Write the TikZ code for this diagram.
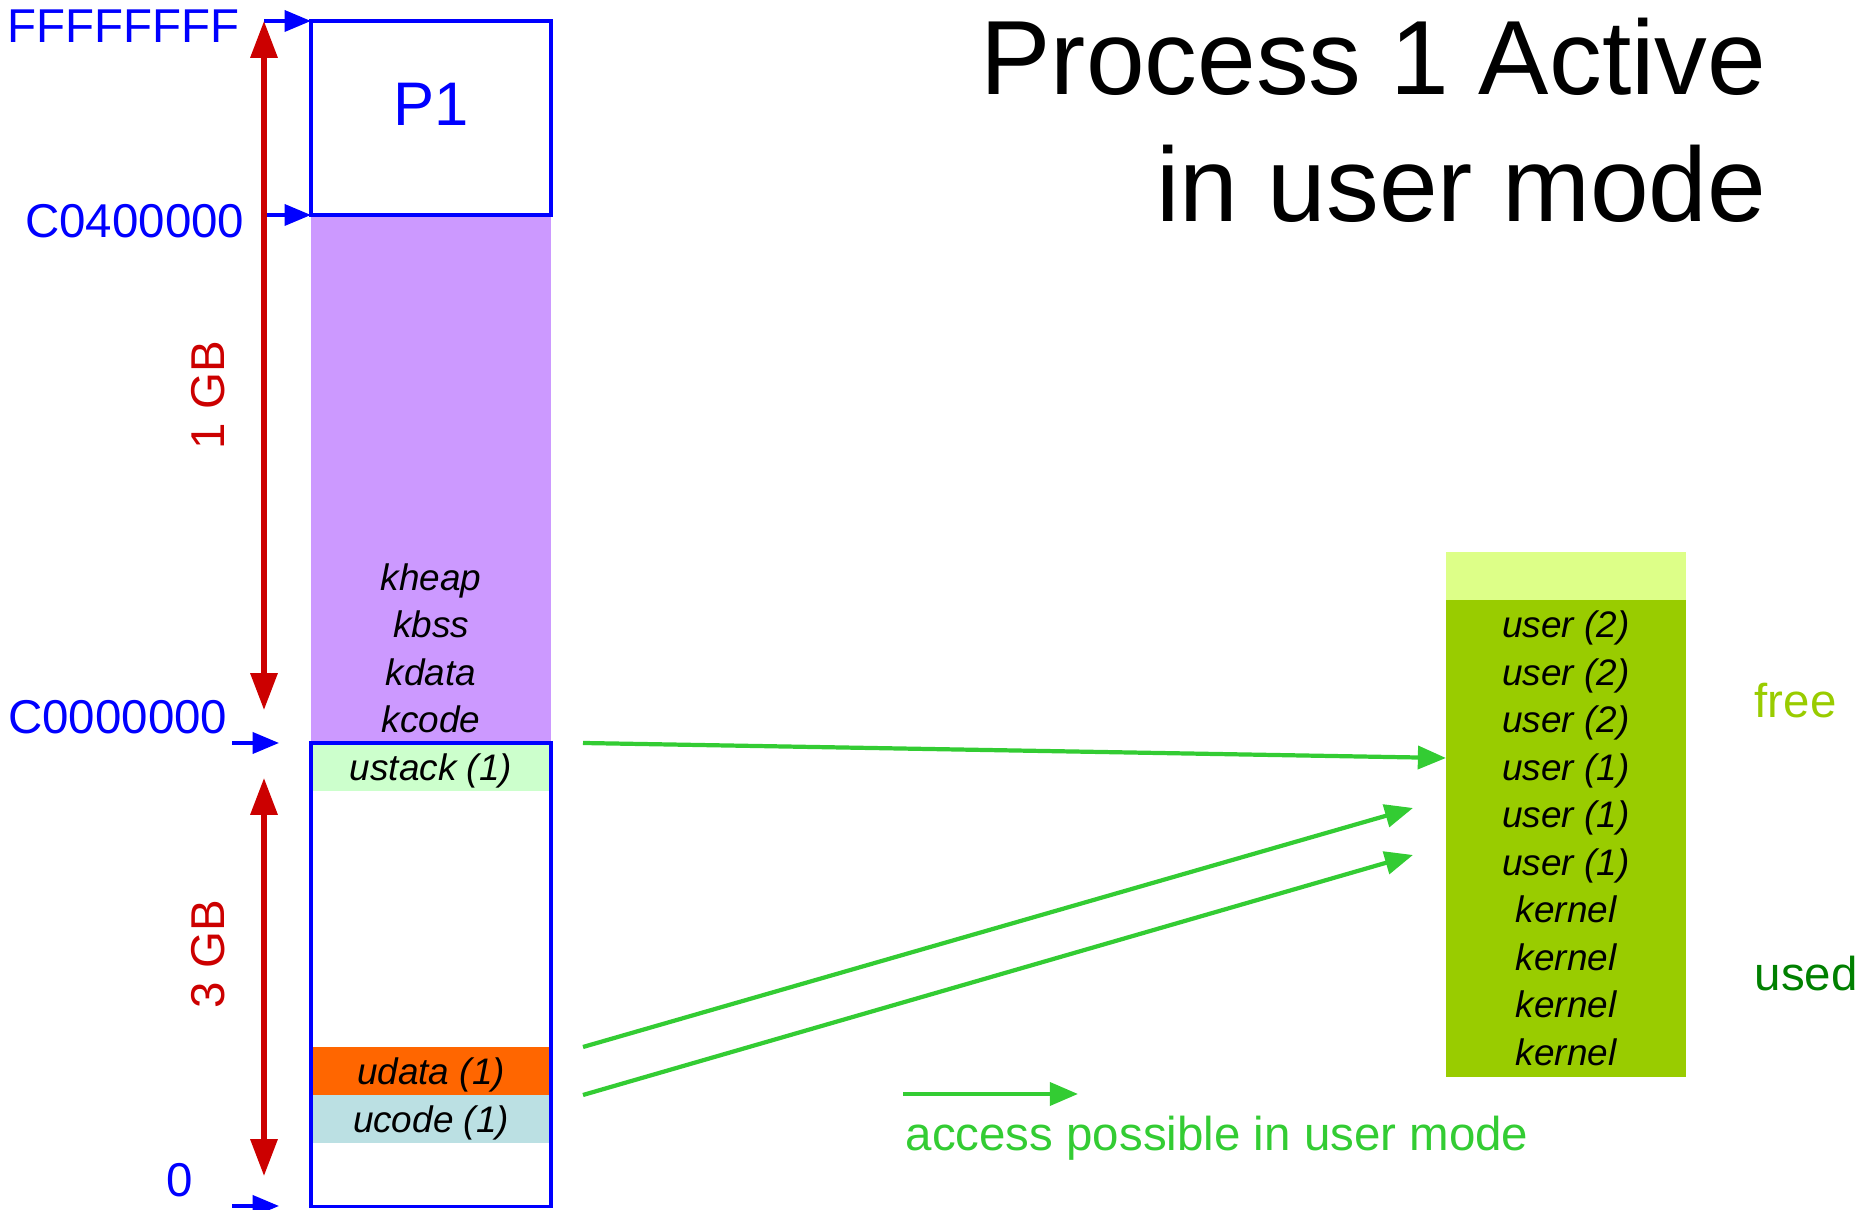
\documentclass[tikz,border=0pt]{standalone}
\usepackage{fontspec}
\setmainfont{Liberation Sans}
\usetikzlibrary{arrows.meta}
\definecolor{addrblue}{HTML}{0000FF}
\definecolor{sizered}{HTML}{CC0000}
\definecolor{kpurple}{HTML}{CC99FF}
\definecolor{stackgreen}{HTML}{CCFFCC}
\definecolor{dataorange}{HTML}{FF6600}
\definecolor{codecyan}{HTML}{BBE0E3}
\definecolor{freefill}{HTML}{DDFF88}
\definecolor{usedfill}{HTML}{99CC00}
\definecolor{usedtext}{HTML}{008000}
\definecolor{accgreen}{HTML}{33CC33}
\newcommand{\titlefont}{\fontsize{30}{36}\selectfont}
\newcommand{\addrfont}{\fontsize{13.5}{16}\selectfont}
\newcommand{\rowfont}{\fontsize{10.5}{12.6}\selectfont\itshape}
\newcommand{\ponefont}{\fontsize{17.5}{21}\selectfont}

\begin{document}
\begin{tikzpicture}[
  x=0.01cm, y=-0.01cm,
  seg/.style={minimum width=2.4cm, minimum height=0.475cm, inner sep=0pt, outer sep=0pt,
              font=\rowfont, text height=9pt, text depth=1.2pt},
  memframe/.style={draw=addrblue, line width=1pt, minimum width=2.4cm, inner sep=0pt, outer sep=0pt},
  rowlbl/.style={inner sep=0pt, font=\rowfont, text height=9pt, text depth=1.2pt},
  addr/.style={anchor=east, inner sep=0pt, text=addrblue, font=\addrfont},
  gblbl/.style={inner sep=0pt, text=sizered, font=\addrfont, rotate=90},
  ptr/.style={draw=addrblue, line width=1pt, -{Triangle[length=7.5pt, width=6pt]}},
  gbspan/.style={draw=sizered, line width=1.5pt,
                 {Triangle[length=10.5pt, width=7.5pt]}-{Triangle[length=10.5pt, width=7.5pt]}},
  acc/.style={draw=accgreen, line width=1.2pt, -{Triangle[length=8pt, width=6.5pt]}}
]
\useasboundingbox (0,0) rectangle (1862,1210);

\node[anchor=base east, inner sep=0pt, font=\titlefont] (title1) at (1767,95) {Process 1 Active};
\node[anchor=base east, inner sep=0pt, font=\titlefont] (title2) at (1767,222) {in user mode};

% virtual address space of P1
\node[seg, fill=kpurple, minimum height=5.28cm, anchor=north] (kspace) at (431,215) {};
\foreach \t [count=\i from 0] in {kcode,kdata,kbss,kheap}
  \node[rowlbl] (k\i) at (431,719-47.5*\i) {\t};
\node[seg, fill=stackgreen, anchor=north] (ustack) at (431,743) {ustack (1)};
\node[seg, fill=dataorange, anchor=north] (udata) at (431,1047) {udata (1)};
\node[seg, fill=codecyan, anchor=north] (ucode) at (431,1095) {ucode (1)};
\node[memframe, minimum height=1.94cm] (p1) at (431,118) {};
\node[inner sep=0pt, text=addrblue, font=\ponefont] (p1lbl) at (431,104) {P1};
\node[memframe, minimum height=4.63cm, anchor=north] (ubox) at (431,743) {};

\node[addr] (aF) at (240,26) {FFFFFFFF};
\node[addr] (aC4) at (245,221) {C0400000};
\node[addr] (aC0) at (228,717) {C0000000};
\node[addr] (a0) at (194,1180) {0};
\coordinate (pF) at (264,21);
\coordinate (pC4) at (264,215);
\coordinate (pC0) at (232,743);
\coordinate (pC0e) at (279,743);
\coordinate (p0) at (232,1206);
\coordinate (p0e) at (279,1206);
\draw[ptr] (pF) -- (pF -| p1.west);
\draw[ptr] (pC4) -- (pC4 -| p1.west);
\draw[ptr] (pC0) -- (pC0e);
\draw[ptr] (p0) -- (p0e);

\coordinate (g1a) at (264,21);
\coordinate (g1b) at (264,710);
\coordinate (g3a) at (264,778);
\coordinate (g3b) at (264,1176);
\draw[gbspan] (g1a) -- (g1b);
\draw[gbspan] (g3a) -- (g3b);
\node[gblbl] (g1) at (208,395) {1 GB};
\node[gblbl] (g3) at (208,954) {3 GB};

% physical memory
\node[seg, fill=freefill, minimum height=0.48cm, anchor=north] (freecell) at (1566,552) {};
\node[seg, fill=usedfill, minimum height=4.77cm, anchor=north] (usedarea) at (1566,600) {};
\foreach \t [count=\i from 0] in {user (2),user (2),user (2),user (1),user (1),user (1),kernel,kernel,kernel,kernel}
  \node[rowlbl] (f\i) at (1566,624+47.5*\i) {\t};
\node[anchor=west, inner sep=0pt, text=usedfill, font=\addrfont] (freelbl) at (1754,701) {free};
\node[anchor=west, inner sep=0pt, text=usedtext, font=\addrfont] (usedlbl) at (1754,974) {used};

\coordinate (s1) at (583,743);
\coordinate (s2) at (583,1047);
\coordinate (s3) at (583,1095);
\coordinate (e1) at (1446,758);
\coordinate (e2) at (1413,808);
\coordinate (e3) at (1413,855);
\draw[acc] (s1) -- (e1);
\draw[acc] (s2) -- (e2);
\draw[acc] (s3) -- (e3);

\coordinate (lg1) at (903,1094);
\coordinate (lg2) at (1078,1094);
\draw[acc] (lg1) -- (lg2);
\node[anchor=base west, inner sep=0pt, text=accgreen, font=\addrfont] (legend) at (905,1151) {access possible in user mode};
\end{tikzpicture}
\end{document}
